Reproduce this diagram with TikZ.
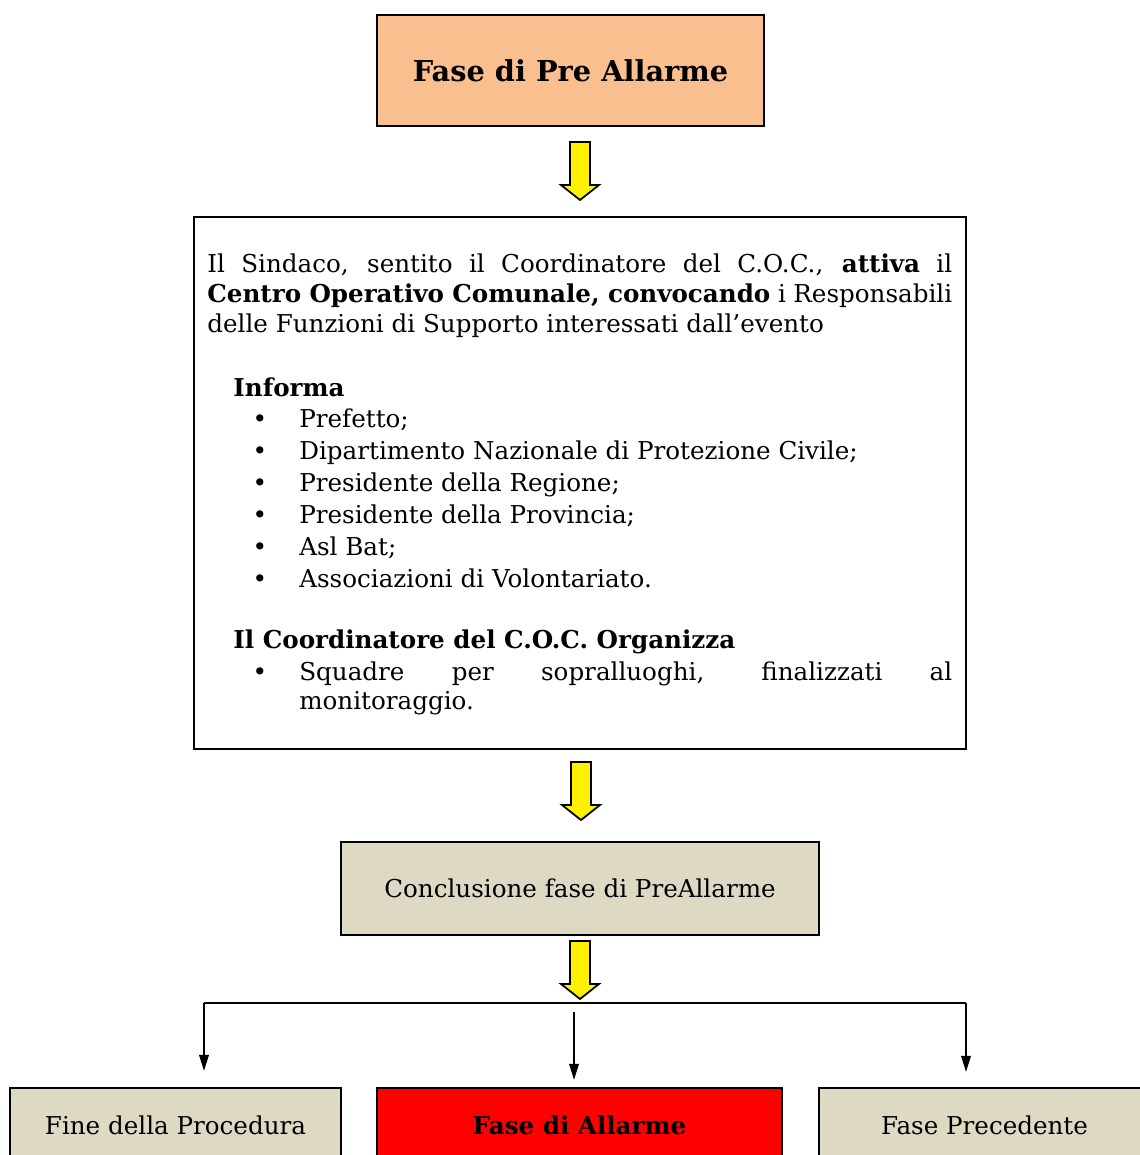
\documentclass[tikz,border=0pt]{standalone}
\usepackage{fontspec}
\setmainfont{DejaVu Serif}
\usetikzlibrary{positioning,arrows.meta}

\definecolor{pesca}{HTML}{F9BF8F}
\definecolor{sabbia}{HTML}{DDD9C3}

\tikzset{
  box/.style={draw, line width=1.4pt, rectangle, inner sep=0pt},
  testo/.style={font=\fontsize{14}{17}\selectfont, inner sep=0pt},
  grassetto/.style={font=\fontsize{14}{17}\selectfont\bfseries, inner sep=0pt},
  freccione/.pic={\draw[fill=yellow, line width=1pt, line join=miter]
    (-10,0) -- (-10,43) -- (-19,43) -- (0,58) -- (19,43) -- (10,43) -- (10,0) -- cycle;},
  freccina/.style={-{Triangle[length=9pt,width=5.5pt]}, line width=0.8pt},
}

\begin{document}
\begin{tikzpicture}[x=0.02cm, y=-0.02cm]
\useasboundingbox (0,0) rectangle (1139,1155);

% riquadri
\node[box, fill=pesca, minimum width=7.74cm, minimum height=2.22cm, font=\fontsize{16.4}{19}\selectfont\bfseries] (pre) at (570.5,70.5) {Fase di Pre Allarme};
\node[box, minimum width=15.44cm, minimum height=10.64cm] (coc) at (580,483) {};
\node[box, fill=sabbia, minimum width=9.56cm, minimum height=1.86cm, testo] (concl) at (580,888.5) {Conclusione fase di PreAllarme};
\node[box, fill=sabbia, minimum width=6.62cm, minimum height=1.48cm, testo] (fine) at (175.5,1125) {Fine della Procedura};
\node[box, fill=red, minimum width=8.1cm, minimum height=1.48cm, grassetto] (allarme) at (579.5,1125) {Fase di Allarme};
\node[box, fill=sabbia, minimum width=6.62cm, minimum height=1.48cm, testo] (prec) at (984.5,1125) {Fase Precedente};

% testo del riquadro centrale
\node[testo, anchor=base west, text width=14.9cm, align=justify] (intro) at (207,273)
  {Il Sindaco, sentito il Coordinatore del C.O.C., \textbf{attiva} il\linebreak
   \textbf{Centro Operativo Comunale, convocando} i Responsabili\linebreak
   delle Funzioni di Supporto interessati dall’evento};
\node[grassetto, anchor=base west] (informa) at (233,396) {Informa};
\foreach \t [count=\i from 0] in {{Prefetto;},{Dipartimento Nazionale di Protezione Civile;},{Presidente della Regione;},{Presidente della Provincia;},{Asl Bat;},{Associazioni di Volontariato.}}{
  \node[testo, anchor=base] (p\i) at (260,427+32*\i) {\textbullet};
  \node[testo, anchor=base west] (v\i) at (299,427+32*\i) {\t};
}
\node[grassetto, anchor=base west] (organizza) at (233,648) {Il Coordinatore del C.O.C. Organizza};
\node[testo, anchor=base] (p6) at (260,680) {\textbullet};
\node[testo, anchor=base west, text width=13.06cm, align=justify] (squadre) at (299,680)
  {Squadre per sopralluoghi, finalizzati al\linebreak monitoraggio.};

% frecce gialle
\pic at (580,142) {freccione};
\pic at (581,762) {freccione};
\pic at (580,941) {freccione};

% diramazione
\coordinate (sx) at (204,1003);
\coordinate (dx) at (966,1003);
\coordinate (mid) at (574,1012);
\draw[line width=1.2pt] (sx) -- (dx);
\draw[freccina, shorten >=0.32cm] (sx) -- (sx |- fine.north);
\draw[freccina, shorten >=0.14cm] (mid) -- (mid |- allarme.north);
\draw[freccina, shorten >=0.3cm] (dx) -- (dx |- prec.north);
\end{tikzpicture}
\end{document}
